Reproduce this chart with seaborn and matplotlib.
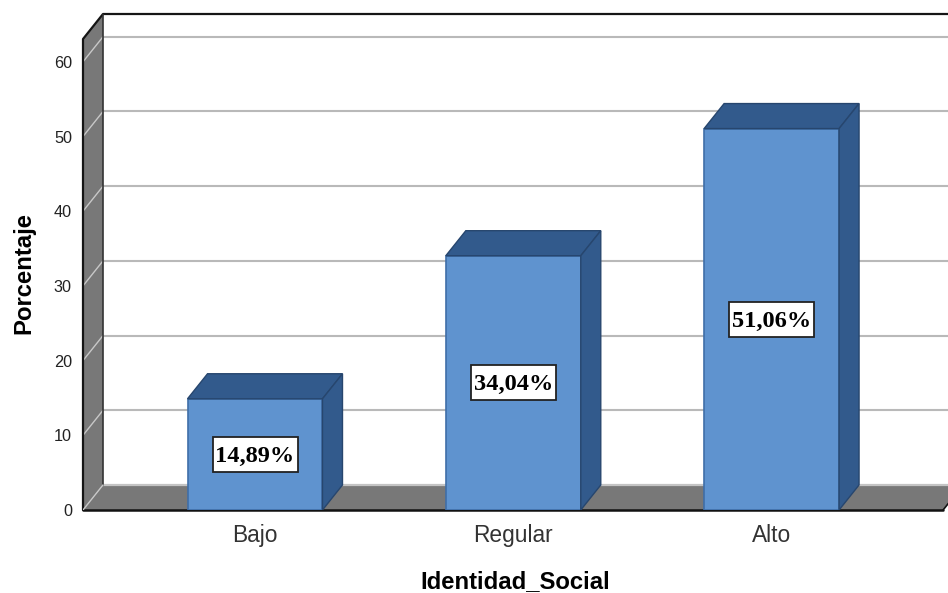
import seaborn as sns
import pandas as pd
import matplotlib.pyplot as plt
from matplotlib.patches import Polygon, Rectangle

categorias = ["Bajo", "Regular", "Alto"]
porcentajes = [14.89, 34.04, 51.06]
etiquetas = ["14,89%", "34,04%", "51,06%"]
y_ticks = [0, 10, 20, 30, 40, 50, 60]

# profundidad del efecto 3D, en unidades de datos
DX = 0.0774
DY = 3.35
X_MIN, X_MAX = -0.666, 2.683
X_FLOOR = 2.664
Y_MAX = 66.4
# caja de las etiquetas
BOX_W = 0.329
BOX_H = 4.69

FRONT = "#5f93cf"
DARK = "#325a8c"
EDGE = "#27466e"
GREY = "#787878"

sns.set_theme(style="white")
plt.rcParams["font.family"] = ["Liberation Sans", "DejaVu Sans"]

fig = plt.figure(figsize=(9.48, 5.93), dpi=100)
ax = fig.add_axes([83 / 948, 1 - 510 / 593, 865 / 948, 496 / 593])

df = pd.DataFrame({"Identidad_Social": categorias, "Porcentaje": porcentajes})
sns.barplot(data=df, x="Identidad_Social", y="Porcentaje", color=FRONT, saturation=1,
            width=0.5225, edgecolor="#3f6ea8", linewidth=1.2, ax=ax, zorder=4)

ax.set_xlim(X_MIN, X_MAX)
ax.set_ylim(0, Y_MAX)
sns.despine(ax=ax, left=True, bottom=True, top=True, right=True)

# pared izquierda y suelo
wall = [(X_MIN, 0), (X_MIN + DX, DY), (X_MIN + DX, Y_MAX), (X_MIN, Y_MAX - DY)]
floor = [(X_MIN, 0), (X_MIN + DX, DY), (X_FLOOR + DX, DY), (X_FLOOR, 0)]
ax.add_patch(Polygon(wall, closed=True, facecolor=GREY, edgecolor="none", zorder=1))
ax.add_patch(Polygon(floor, closed=True, facecolor=GREY, edgecolor="none", zorder=1))

# rejilla: en el plano del fondo y en la pared
for t in y_ticks[1:]:
    ax.plot([X_MIN + DX, X_MAX], [t + DY, t + DY], color="#b9b9b9", lw=1.5, zorder=2, solid_capstyle="butt")
    ax.plot([X_MIN, X_MIN + DX], [t, t + DY], color="#c8c8c8", lw=1.0, zorder=2)

# marco negro
ax.plot([X_MIN, X_MIN, X_MIN + DX, X_MAX], [0, Y_MAX - DY, Y_MAX, Y_MAX], color="#151515", lw=1.6, zorder=3, clip_on=False)
ax.plot([X_MIN + DX, X_MIN + DX], [DY, Y_MAX], color="#333333", lw=1.2, zorder=3)
ax.plot([X_MIN, X_FLOOR], [0, 0], color="#111111", lw=1.8, zorder=3, clip_on=False)
ax.plot([X_FLOOR, X_FLOOR + DX], [0, DY], color="#111111", lw=1.2, zorder=3)
ax.plot([X_MIN, X_MIN + DX], [0, DY], color="#c8c8c8", lw=1.0, zorder=3)
ax.plot([X_MIN + DX, X_MAX], [DY, DY], color="#c4c4c4", lw=1.6, zorder=2)

# caras superior y lateral de cada barra, a partir de las barras dibujadas
for bar, texto in zip(ax.patches[:3], etiquetas):
    x0, w, h = bar.get_x(), bar.get_width(), bar.get_height()
    top = [(x0, h), (x0 + DX, h + DY), (x0 + w + DX, h + DY), (x0 + w, h)]
    side = [(x0 + w, 0), (x0 + w + DX, DY), (x0 + w + DX, h + DY), (x0 + w, h)]
    ax.add_patch(Polygon(top, closed=True, facecolor=DARK, edgecolor=EDGE, lw=1.0, zorder=4))
    ax.add_patch(Polygon(side, closed=True, facecolor=DARK, edgecolor=EDGE, lw=1.0, zorder=4))
    xc = x0 + w / 2
    ax.add_patch(Rectangle((xc - BOX_W / 2, h / 2 - BOX_H / 2), BOX_W, BOX_H, facecolor="white",
                           edgecolor="#222222", lw=1.3, zorder=5))
    ax.text(xc, h / 2 - 0.25, texto, ha="center", va="center", color="black", zorder=6,
            fontsize=17.6, fontweight="bold", family="Liberation Serif")

ax.set_yticks(y_ticks)
ax.set_yticklabels([str(t) for t in y_ticks], fontsize=11.7, color="#222222")
ax.tick_params(axis="y", length=0, pad=8)
ax.tick_params(axis="x", length=0, pad=10, labelsize=16.4, labelcolor="#333333")
ax.set_xlabel("Identidad_Social", fontsize=17.2, fontweight="bold", color="black", labelpad=17)
ax.set_ylabel("Porcentaje", fontsize=17.2, fontweight="bold", color="black", labelpad=13, y=0.477)

fig.savefig("out.png", dpi=100)
